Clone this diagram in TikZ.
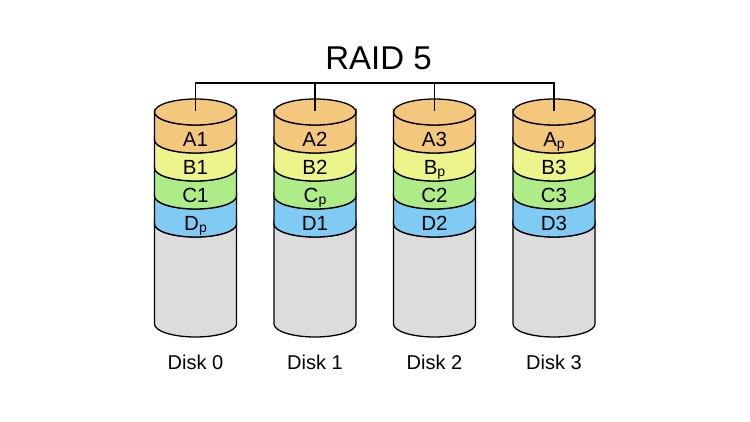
\documentclass[tikz,border=0pt]{standalone}
\usepackage{fontspec}
\setmainfont{Liberation Sans}
\definecolor{bandA}{HTML}{F4C87C}
\definecolor{bandB}{HTML}{EEF48C}
\definecolor{bandC}{HTML}{AEEC88}
\definecolor{bandD}{HTML}{80CBF4}
\definecolor{bandE}{HTML}{DCDCDC}
\newcommand\parity[1]{#1\lower1.8pt\hbox{\fontsize{14}{14}\selectfont p}}
\begin{document}
\begin{tikzpicture}[x=1pt,y=1pt,line width=1.3pt,
  lbl/.style={font=\fontsize{20.5}{20.5}\selectfont,anchor=base,inner sep=0pt},
  disklbl/.style={font=\fontsize{20}{20}\selectfont,anchor=base,inner sep=0pt},
  ttl/.style={font=\fontsize{33}{33}\selectfont,anchor=base,inner sep=0pt},
  band/.style={draw=black}]
\useasboundingbox (0,0) rectangle (750,421);
\fill[white] (0,0) rectangle (750,421);
\foreach \i/\cx/\a/\b/\c/\d in {0/195.5/A1/B1/C1/\parity{D},1/315/A2/B2/\parity{C}/D1,2/434.5/A3/\parity{B}/C2/D2,3/554/\parity{A}/B3/C3/D3}{
  % gray body
  \filldraw[band,fill=bandE] (\cx-41,197) -- (\cx-41,97)
    arc[start angle=180,end angle=360,x radius=41pt,y radius=13pt]
    -- (\cx+41,197) arc[start angle=0,end angle=-180,x radius=41pt,y radius=13pt] -- cycle;
  % bands
  \foreach \yt/\col in {225/bandD,253/bandC,281/bandB,309/bandA}{
    \filldraw[band,fill=\col] (\cx-41,\yt) -- (\cx-41,\yt-28)
      arc[start angle=180,end angle=360,x radius=41pt,y radius=13pt]
      -- (\cx+41,\yt) arc[start angle=0,end angle=-180,x radius=41pt,y radius=13pt] -- cycle;
  }
  \filldraw[band,fill=bandA] (\cx,309) ellipse[x radius=41pt,y radius=13pt];
  \node[lbl] (a\i) at (\cx,274.6) {\a};
  \node[lbl] (b\i) at (\cx,246.6) {\b};
  \node[lbl] (c\i) at (\cx,218.6) {\c};
  \node[lbl] (d\i) at (\cx,190.6) {\d};
  \node[disklbl] (disk\i) at (\cx,52) {Disk \i};
  \coordinate (top\i) at (\cx,310);
}
\node[ttl] (title) at (378.5,351) {RAID 5};
\coordinate (bus) at (0,338);
\draw (top0) -- (top0 |- bus) -- (top3 |- bus) -- (top3);
\draw (top1) -- (top1 |- bus);
\draw (top2) -- (top2 |- bus);
\end{tikzpicture}
\end{document}
